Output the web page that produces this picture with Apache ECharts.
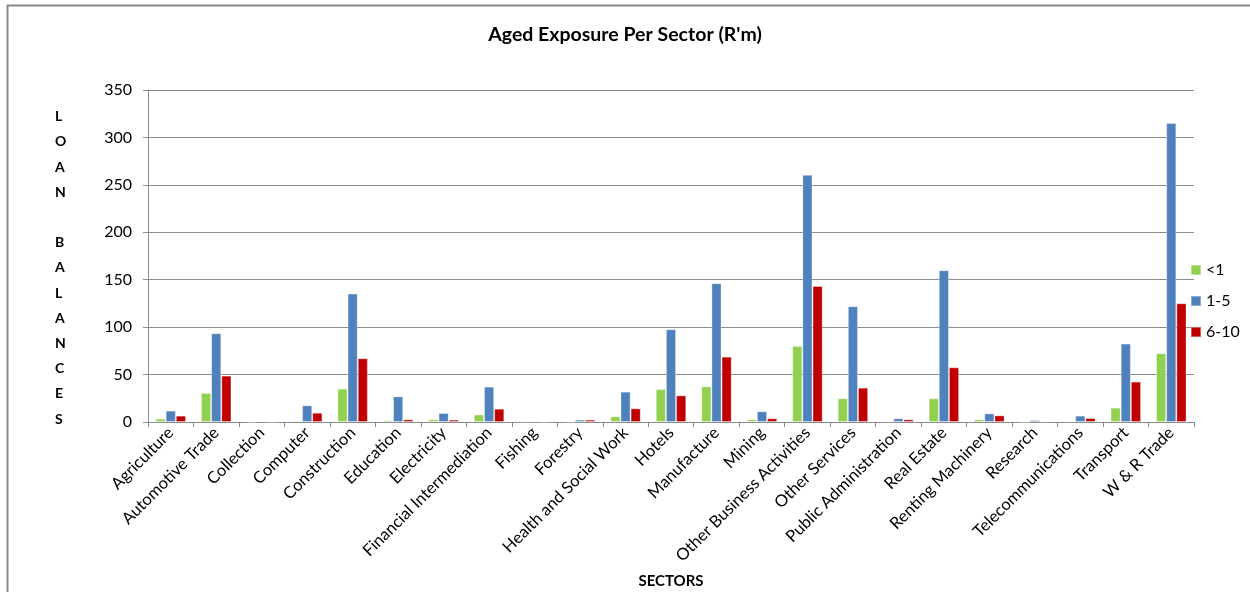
<!DOCTYPE html>
<html>
<head>
<meta charset="utf-8">
<script src="https://cdn.jsdelivr.net/npm/echarts@6/dist/echarts.min.js"></script>
<style>
  html, body { margin: 0; padding: 0; background: #ffffff; }
  #chart { width: 1250px; height: 592px; }
</style>
</head>
<body>
<div id="chart"></div>
<script>
// Sectors on the category axis
const sectors = [
  'Agriculture', 'Automotive Trade', 'Collection', 'Computer', 'Construction',
  'Education', 'Electricity', 'Financial Intermediation', 'Fishing', 'Forestry',
  'Health and Social Work', 'Hotels', 'Manufacture', 'Mining',
  'Other Business Activities', 'Other Services', 'Public Administration',
  'Real Estate', 'Renting Machinery', 'Research', 'Telecommunications',
  'Transport', 'W & R Trade'
];

// Loan balances (R'm) per age bucket
const under1 = [3.5, 30.6, 0.2, 1.4, 35.2, 1.8, 2.8, 8.0, 0.7, 0.2, 6.0, 34.8, 37.6, 2.8, 80.2, 25.0, 0.7, 25.0, 2.8, 0.2, 0.7, 15.1, 72.5];
const oneTo5 = [12.0, 93.6, 1.0, 17.6, 135.4, 27.0, 9.5, 37.3, 0.7, 2.5, 32.0, 97.8, 146.3, 11.3, 260.6, 122.0, 3.9, 160.0, 9.1, 2.1, 6.7, 82.7, 315.2];
const sixTo10 = [6.7, 48.9, 0.3, 9.8, 67.2, 2.8, 2.5, 14.0, 0.3, 2.5, 14.4, 28.1, 68.9, 3.9, 143.5, 36.2, 2.8, 57.7, 7.0, 0.7, 4.2, 42.6, 125.2];

// Value axis ticks
const yTicks = [0, 50, 100, 150, 200, 250, 300, 350];

const seriesNames = ['<1', '1-5', '6-10'];
const seriesColors = ['#92D050', '#4F81BD', '#C00000'];
const seriesData = [under1, oneTo5, sixTo10];

const FONT = 'Lato, "Open Sans", sans-serif';
const GRID_COLOR = '#8c8c8c';

const chart = echarts.init(document.getElementById('chart'), null, { renderer: 'canvas' });

const option = {
  backgroundColor: '#ffffff',
  animation: false,
  textStyle: { fontFamily: FONT, color: '#000' },
  title: {
    text: "Aged Exposure Per Sector (R'm)",
    left: 'center',
    top: 20,
    textStyle: { fontFamily: FONT, fontWeight: 'bold', fontSize: 19.5, color: '#000' }
  },
  legend: {
    orient: 'vertical',
    left: 1185,
    top: 257,
    icon: 'rect',
    itemWidth: 10,
    itemHeight: 10,
    itemGap: 15,
    textStyle: { fontFamily: FONT, fontSize: 16, color: '#000' },
    data: seriesNames
  },
  grid: { left: 148, right: 56, top: 90, bottom: 170, containLabel: false, outerBoundsMode: 'none' },
  xAxis: {
    type: 'category',
    data: sectors,
    name: 'SECTORS',
    nameLocation: 'middle',
    nameGap: 152,
    nameTextStyle: { fontFamily: FONT, fontWeight: 'bold', fontSize: 15, color: '#000' },
    axisLine: { lineStyle: { color: GRID_COLOR, width: 1 } },
    axisTick: { show: true, length: 5, lineStyle: { color: GRID_COLOR } },
    axisLabel: {
      interval: 0,
      rotate: 45,
      margin: 8,
      fontFamily: FONT,
      fontSize: 16.5,
      color: '#000'
    }
  },
  yAxis: {
    type: 'value',
    min: yTicks[0],
    max: yTicks[yTicks.length - 1],
    interval: yTicks[1] - yTicks[0],
    axisLine: { show: true, lineStyle: { color: GRID_COLOR, width: 1 } },
    axisTick: { show: true, length: 5, lineStyle: { color: GRID_COLOR } },
    axisLabel: { fontFamily: FONT, fontSize: 16, color: '#000', margin: 16 },
    splitLine: { show: true, lineStyle: { color: GRID_COLOR, width: 1 } }
  },
  series: seriesNames.map((name, i) => ({
    name: name,
    type: 'bar',
    data: seriesData[i],
    barGap: '0%',
    barCategoryGap: '33%',
    itemStyle: {
      color: seriesColors[i],
      borderColor: 'rgba(255,255,255,0.35)',
      borderWidth: 1
    }
  })),
  graphic: [
    // Frame around the chart area
    {
      type: 'rect',
      shape: { x: 7.5, y: 5.5, width: 1400, height: 800 },
      style: { fill: 'none', stroke: '#8a8a8a', lineWidth: 2 },
      silent: true,
      z: 0
    },
    // Vertical value-axis title, one letter per line
    {
      type: 'text',
      left: 55,
      top: 104,
      style: {
        text: 'L\nO\nA\nN\n\nB\nA\nL\nA\nN\nC\nE\nS',
        font: 'bold 14px ' + FONT,
        lineHeight: 25.2,
        align: 'center',
        width: 16,
        fill: '#000'
      }
    }
  ]
};

chart.setOption(option);
</script>
</body>
</html>
